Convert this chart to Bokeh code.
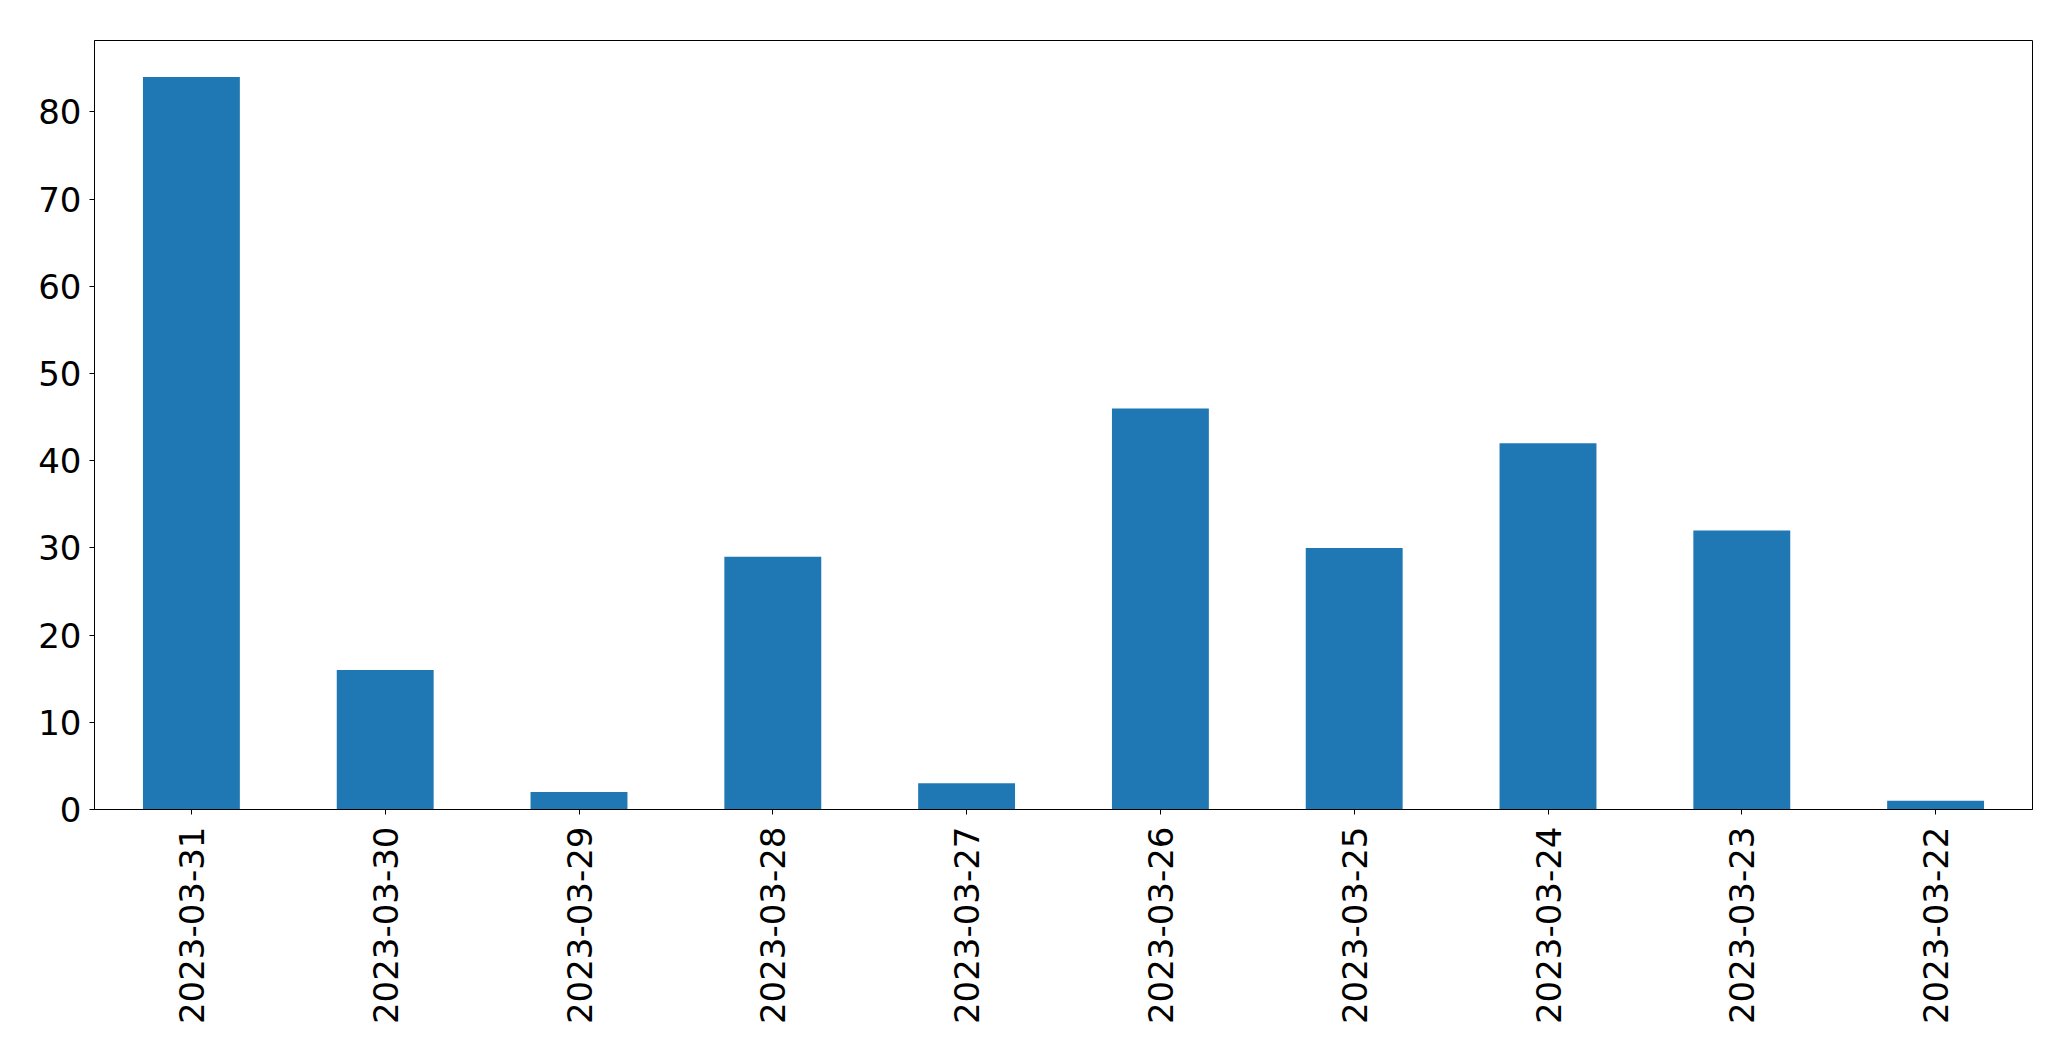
import math
from bokeh.plotting import figure
from bokeh.models import FactorRange, Range1d, FixedTicker, ColumnDataSource
from bokeh.embed import file_html
from bokeh.resources import INLINE

dates = ["2023-03-31", "2023-03-30", "2023-03-29", "2023-03-28", "2023-03-27",
         "2023-03-26", "2023-03-25", "2023-03-24", "2023-03-23", "2023-03-22"]
counts = [84, 16, 2, 29, 3, 46, 30, 42, 32, 1]
y_ticks = [0, 10, 20, 30, 40, 50, 60, 70, 80]

source = ColumnDataSource(data=dict(date=dates, count=counts))

p = figure(
    x_range=FactorRange(factors=dates, range_padding=0),
    y_range=Range1d(0, max(counts) * 1.05),
    width=2055, height=1045,
    output_backend="svg", toolbar_location=None,
    min_border_left=94, min_border_top=40, min_border_right=23, min_border_bottom=236,
)

p.vbar(x="date", top="count", width=0.5, source=source,
       fill_color="#1f77b4", line_color=None)

p.outline_line_color = "black"
p.outline_line_width = 1
p.xgrid.visible = False
p.ygrid.visible = False

p.yaxis.ticker = FixedTicker(ticks=y_ticks)
for ax in (p.xaxis, p.yaxis):
    ax.major_label_text_font = "DejaVu Sans"
    ax.major_label_text_font_size = "34px"
    ax.major_label_text_color = "black"
    ax.major_tick_out = 5
    ax.major_tick_in = 0
    ax.minor_tick_line_color = None
    ax.axis_line_color = "black"
    ax.major_tick_line_color = "black"
p.yaxis.major_label_standoff = 8
p.xaxis.major_label_standoff = 12
p.xaxis.major_label_orientation = math.pi / 2

open("out.html", "w").write(file_html(p, INLINE))
